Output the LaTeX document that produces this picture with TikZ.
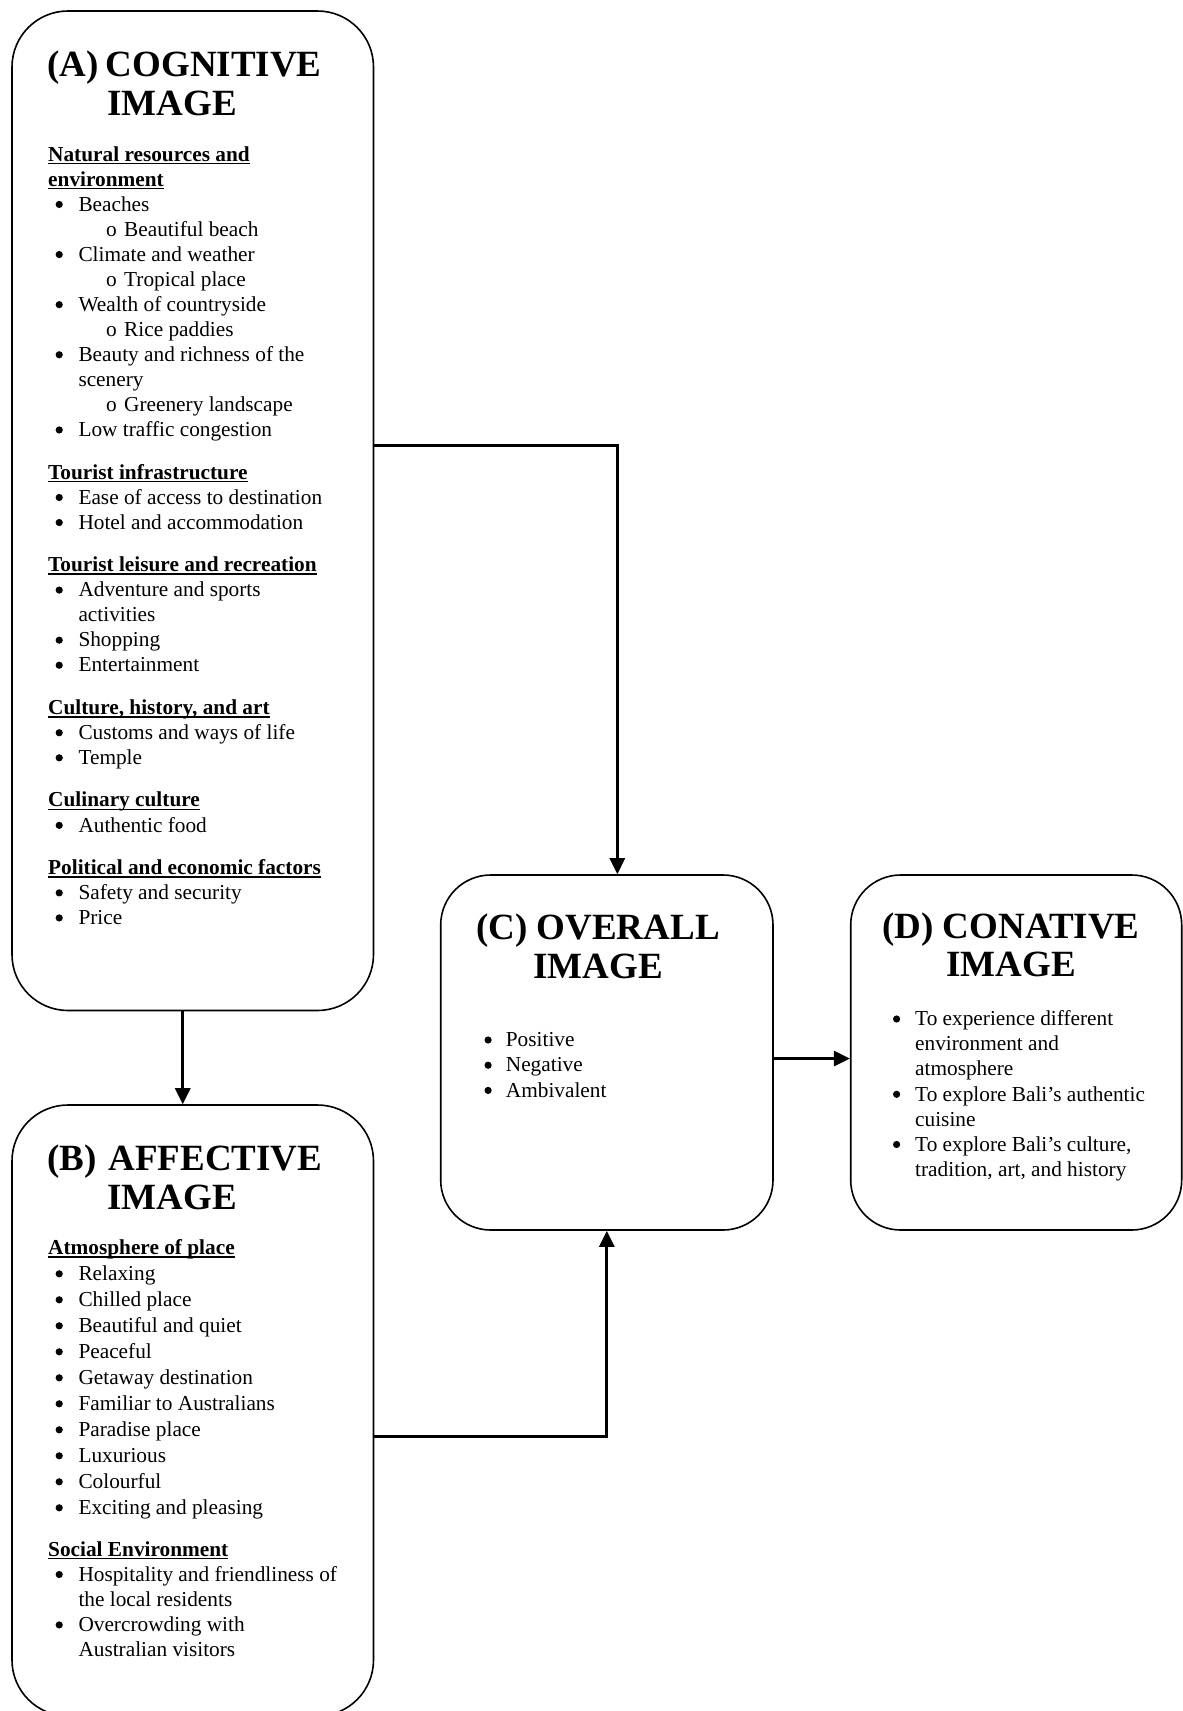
\documentclass[tikz,border=0pt]{standalone}
\usepackage{fontspec}
\setmainfont{Liberation Serif}
\usetikzlibrary{arrows.meta}
\newsavebox\hdrbox
\newcommand\hdr[1]{\leavevmode\sbox\hdrbox{\bfseries #1}\rlap{\rule[-3.2pt]{\wd\hdrbox}{1.5pt}}\usebox\hdrbox}
\newcommand\bdot{\tikz[baseline=0pt]\fill (0pt,6.7pt) circle (3.6pt);}
\newcommand\bitem[1]{\leavevmode\makebox[30.3pt][l]{\hspace{7.4pt}\bdot}#1}
\newcommand\sitem[1]{\leavevmode\makebox[76pt][l]{\hspace{58pt}o}#1}
\newcommand\citem[1]{\leavevmode\hspace*{30.3pt}#1}
\newcommand\litem[2]{\leavevmode\makebox[#1][l]{\bdot}#2}
\newcommand\lcont[2]{\leavevmode\hspace*{#1}#2}
\newcommand\bodyfnt[1]{\fontsize{21.3pt}{#1}\selectfont}
\newcommand\ttlfnt[1]{\fontsize{37pt}{#1}\selectfont\bfseries}
\begin{document}
\begin{tikzpicture}[x=1pt,y=-1pt,
  box/.style={draw, line width=1.6pt, rectangle, inner sep=0pt},
  arr/.style={-{Triangle[length=16pt,width=15pt]}, line width=2.8pt},
  txt/.style={inner sep=0pt, anchor=base west},
  ctxt/.style={inner sep=0pt, anchor=base}]
\path[use as bounding box] (0,0) rectangle (1183,1711);
\fill[white] (0,0) rectangle (1183,1711);
\begin{scope}
\clip (0,0) rectangle (1183,1711);
% boxes
\node[box, minimum width=361.5pt, minimum height=999.5pt, rounded corners=56pt] (A) at (192.75,510.75) {};
\node[box, minimum width=361.5pt, minimum height=611pt, rounded corners=56pt] (B) at (192.75,1410.5) {};
\node[box, minimum width=332.3pt, minimum height=355pt, rounded corners=50pt] (C) at (606.85,1052.5) {};
\node[box, minimum width=331pt, minimum height=355pt, rounded corners=50pt] (D) at (1016.2,1052.5) {};
% titles
\node[txt] (At) at (47.3,76.7) {\parbox[t]{330pt}{\ttlfnt{39pt}\makebox[58.3pt][l]{(A)}COGNITIVE\\\hspace*{60pt}IMAGE}};
\node[txt] (Bt) at (47.3,1170.7) {\parbox[t]{330pt}{\ttlfnt{39pt}\makebox[61pt][l]{(B)}AFFECTIVE\\\hspace*{60pt}IMAGE}};
\node[ctxt] (Ct) at (598,939) {\parbox[t]{320pt}{\centering\ttlfnt{39pt}(C) OVERALL\\IMAGE}};
\node[ctxt] (Dt) at (1011,938.3) {\parbox[t]{320pt}{\centering\ttlfnt{37.7pt}(D) CONATIVE\\IMAGE}};
% A content
\node[txt] (Ac) at (48,161) {\parbox[t]{340pt}{\bodyfnt{25.06pt}%
\hdr{Natural resources and}\\
\hdr{environment}\\
\bitem{Beaches}\\
\sitem{Beautiful beach}\\
\bitem{Climate and weather}\\
\sitem{Tropical place}\\
\bitem{Wealth of countryside}\\
\sitem{Rice paddies}\\
\bitem{Beauty and richness of the}\\
\citem{scenery}\\
\sitem{Greenery landscape}\\
\bitem{Low traffic congestion}\\[17.4pt]
\hdr{Tourist infrastructure}\\
\bitem{Ease of access to destination}\\
\bitem{Hotel and accommodation}\\[17.4pt]
\hdr{Tourist leisure and recreation}\\
\bitem{Adventure and sports}\\
\citem{activities}\\
\bitem{Shopping}\\
\bitem{Entertainment}\\[17.4pt]
\hdr{Culture, history, and art}\\
\bitem{Customs and ways of life}\\
\bitem{Temple}\\[17.4pt]
\hdr{Culinary culture}\\
\bitem{Authentic food}\\[17.4pt]
\hdr{Political and economic factors}\\
\bitem{Safety and security}\\
\bitem{Price}}};
% B content
\node[txt] (Bc1) at (48,1254.5) {\parbox[t]{340pt}{\bodyfnt{26pt}%
\hdr{Atmosphere of place}\\
\bitem{Relaxing}\\
\bitem{Chilled place}\\
\bitem{Beautiful and quiet}\\
\bitem{Peaceful}\\
\bitem{Getaway destination}\\
\bitem{Familiar to Australians}\\
\bitem{Paradise place}\\
\bitem{Luxurious}\\
\bitem{Colourful}\\
\bitem{Exciting and pleasing}}};
\node[txt] (Bc2) at (48,1556) {\parbox[t]{340pt}{\bodyfnt{25.2pt}%
\hdr{Social Environment}\\
\bitem{Hospitality and friendliness of}\\
\citem{the local residents}\\
\bitem{Overcrowding with}\\
\citem{Australian visitors}}};
% C content
\node[txt] (Cc) at (484.3,1046.7) {\parbox[t]{260pt}{\bodyfnt{25.2pt}%
\litem{21.4pt}{Positive}\\
\litem{21.4pt}{Negative}\\
\litem{21.4pt}{Ambivalent}}};
% D content
\node[txt] (Dc) at (892.8,1025.7) {\parbox[t]{280pt}{\bodyfnt{25.1pt}%
\litem{22.2pt}{To experience different}\\
\lcont{22.2pt}{environment and}\\
\lcont{22.2pt}{atmosphere}\\
\litem{22.2pt}{To explore Bali’s authentic}\\
\lcont{22.2pt}{cuisine}\\
\litem{22.2pt}{To explore Bali’s culture,}\\
\lcont{22.2pt}{tradition, art, and history}}};
% connectors
\draw[arr] ([xshift=-10pt]A.south) -- ([xshift=-10pt]B.north);
\draw[arr] ([yshift=65pt]A.east) -| ([xshift=10.5pt]C.north);
\draw[arr] ([yshift=-26.2pt]B.east) -| (C.south);
\draw[arr] ([yshift=-6pt]C.east) -- ([yshift=-6pt]D.west);
\end{scope}
\end{tikzpicture}
\end{document}
